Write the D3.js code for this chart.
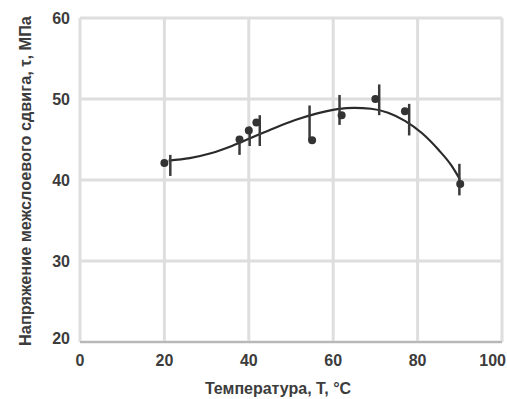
<!DOCTYPE html>
<html>
<head>
<meta charset="utf-8">
<script src="https://cdn.jsdelivr.net/npm/d3@7"></script>
<style>
  body { margin: 0; background: #fff; }
  text { font-family: "Liberation Sans", Arial, sans-serif; font-weight: bold; fill: #3c3c3c; }
</style>
</head>
<body>
<div id="chart"></div>
<script>
// measured points
const pointT = [20, 37.8, 40, 41.8, 55, 62, 70, 77, 90.1];
const pointV = [42.1, 45.0, 46.1, 47.1, 44.9, 48.0, 50.0, 48.5, 39.5];

// error bars (drawn slightly offset from the points, as in the source)
const errT = [21.4, 37.8, 40.2, 42.6, 54.4, 61.5, 70.9, 78, 89.9];
const errLow = [40.5, 43.1, 44.2, 44.2, 44.9, 46.8, 48.0, 45.5, 38.1];
const errHigh = [43.1, 45.4, 46.6, 48.0, 49.2, 50.5, 51.8, 49.4, 42.0];

// fitted curve
const fitT = [21, 26, 31, 36, 41, 46, 51, 56, 61, 65, 69, 73, 77, 81, 85, 88, 90];
const fitV = [42.4, 42.7, 43.3, 44.2, 45.3, 46.4, 47.4, 48.2, 48.75, 48.9, 48.8, 48.3, 47.3, 45.8, 43.7, 41.8, 40.1];

const xTicks = [0, 20, 40, 60, 80, 100];
const yTicks = [20, 30, 40, 50, 60];

const width = 507, height = 399;
const margin = { top: 18, right: 5, bottom: 57, left: 80 };

const svg = d3.select("#chart").append("svg")
    .attr("width", width)
    .attr("height", height);

const x = d3.scaleLinear().domain([0, 100]).range([margin.left, width - margin.right]);
const y = d3.scaleLinear().domain([20, 60]).range([height - margin.bottom, margin.top]);

// grid
svg.append("g")
    .selectAll("line")
    .data(xTicks)
    .enter()
    .append("line")
    .attr("x1", d => x(d)).attr("x2", d => x(d))
    .attr("y1", y(60)).attr("y2", y(20))
    .attr("stroke", "#dedede")
    .attr("stroke-width", 3);

svg.append("g")
    .selectAll("line")
    .data(yTicks)
    .enter()
    .append("line")
    .attr("x1", x(0)).attr("x2", x(100))
    .attr("y1", d => y(d)).attr("y2", d => y(d))
    .attr("stroke", "#dedede")
    .attr("stroke-width", 3);

// bottom axis line
svg.append("line")
    .attr("x1", x(0)).attr("x2", x(100))
    .attr("y1", y(20)).attr("y2", y(20))
    .attr("stroke", "#b8b8b8")
    .attr("stroke-width", 2);

// tick labels
svg.append("g")
    .selectAll("text")
    .data(xTicks)
    .enter()
    .append("text")
    .attr("x", d => d === 100 ? width - 1 : x(d))
    .attr("y", 366)
    .attr("text-anchor", d => d === 100 ? "end" : "middle")
    .attr("font-size", 16)
    .text(d => d);

svg.append("g")
    .selectAll("text")
    .data(yTicks)
    .enter()
    .append("text")
    .attr("x", 70)
    .attr("y", d => y(d) + (d === 20 ? 2 : 6))
    .attr("text-anchor", "end")
    .attr("font-size", 16)
    .text(d => d);

// axis titles
svg.append("text")
    .attr("x", 278)
    .attr("y", 394)
    .attr("text-anchor", "middle")
    .attr("font-size", 16)
    .text("Температура, Т, °С");

svg.append("text")
    .attr("transform", `translate(31, 181) rotate(-90)`)
    .attr("text-anchor", "middle")
    .attr("font-size", 16.3)
    .text("Напряжение межслоевого сдвига, τ, МПа");

// fitted curve
const fit = fitT.map((t, i) => [t, fitV[i]]);
svg.append("path")
    .datum(fit)
    .attr("fill", "none")
    .attr("stroke", "#2a2a2a")
    .attr("stroke-width", 2.2)
    .attr("d", d3.line().x(d => x(d[0])).y(d => y(d[1])).curve(d3.curveMonotoneX));

// error bars
svg.append("g")
    .selectAll("line")
    .data(errT)
    .enter()
    .append("line")
    .attr("x1", d => x(d)).attr("x2", d => x(d))
    .attr("y1", (d, i) => y(errLow[i]))
    .attr("y2", (d, i) => y(errHigh[i]))
    .attr("stroke", "#3a3a3a")
    .attr("stroke-width", 2.5);

// points
svg.append("g")
    .selectAll("circle")
    .data(pointT)
    .enter()
    .append("circle")
    .attr("cx", d => x(d))
    .attr("cy", (d, i) => y(pointV[i]))
    .attr("r", 4)
    .attr("fill", "#333");
</script>
</body>
</html>
